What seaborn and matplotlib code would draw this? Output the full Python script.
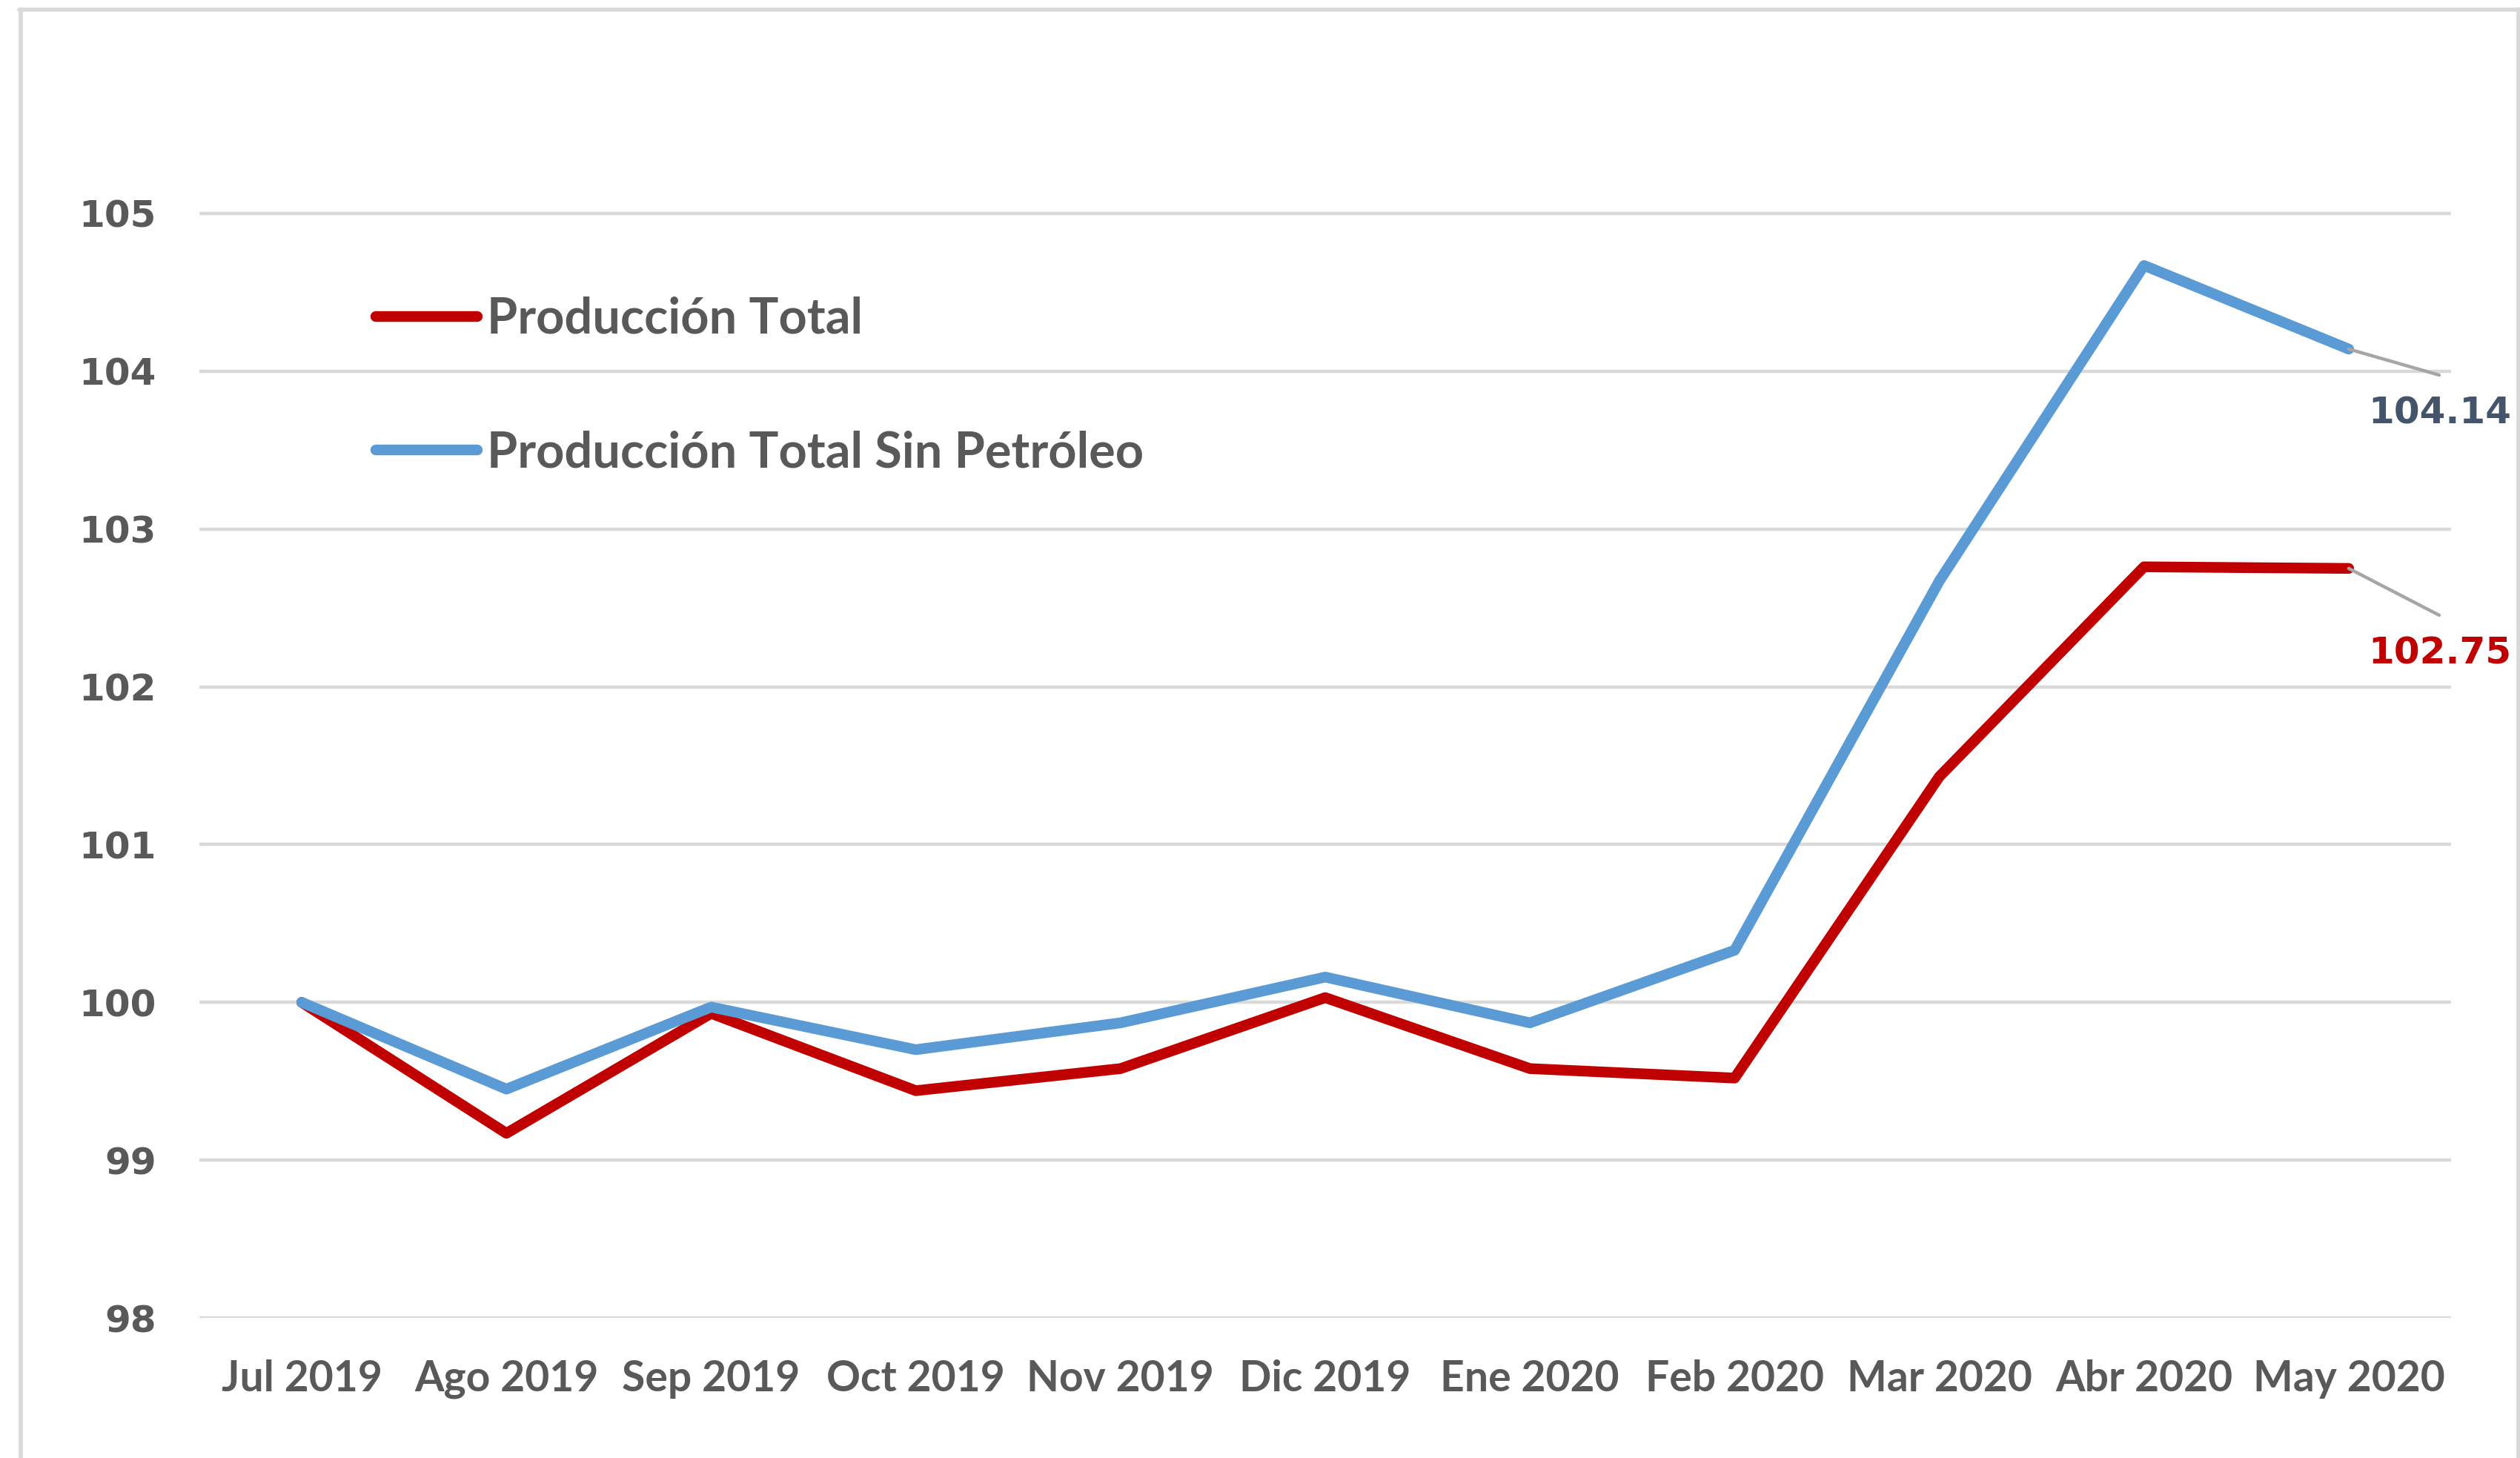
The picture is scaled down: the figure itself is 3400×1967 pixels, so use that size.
import numpy as np
import pandas as pd
import seaborn as sns
import matplotlib.pyplot as plt
from matplotlib.lines import Line2D

months = ['Jul 2019', 'Ago 2019', 'Sep 2019', 'Oct 2019', 'Nov 2019', 'Dic 2019',
          'Ene 2020', 'Feb 2020', 'Mar 2020', 'Abr 2020', 'May 2020']
prod_total = [100.0, 99.17, 99.93, 99.44, 99.58, 100.03, 99.58, 99.52, 101.43, 102.76, 102.75]
prod_sin_petroleo = [100.0, 99.45, 99.97, 99.70, 99.87, 100.16, 99.87, 100.33, 102.67, 104.67, 104.14]
series_names = ['Producción Total', 'Producción Total Sin Petróleo']
series_colors = ['#C00000', '#5B9BD5']
label_colors = ['#C00000', '#44546A']
y_ticks = [98, 99, 100, 101, 102, 103, 104, 105]

df = pd.concat([
    pd.DataFrame({'mes': months, 'valor': prod_total, 'serie': series_names[0]}),
    pd.DataFrame({'mes': months, 'valor': prod_sin_petroleo, 'serie': series_names[1]}),
])

sns.set_style('white')
narrow = ['Lato', 'DejaVu Sans']
wide = ['DejaVu Sans']
grey_txt = '#595959'

W, H = 3400, 1967
fig = plt.figure(figsize=(17, 9.835), dpi=200)
# axes box in pixels: left 269, right 3307, y=98 at 1778, y=106 at 75
ax = fig.add_axes([269 / W, (H - 1778) / H, (3307 - 269) / W, (1778 - 75) / H])

sns.lineplot(data=df, x='mes', y='valor', hue='serie', palette=series_colors,
             linewidth=5.2, ax=ax, legend=False, sort=False)
for ln in ax.get_lines():
    ln.set_solid_capstyle('round')
    ln.set_solid_joinstyle('round')

ax.set_xlim(-0.5, 10.5)
ax.set_ylim(98, 106)
ax.set_yticks(y_ticks)
ax.set_yticklabels([str(t) for t in y_ticks], family=wide, fontweight='bold',
                   fontsize=18, color=grey_txt)
ax.set_xticks(range(len(months)))
ax.set_xticklabels(months, family=narrow, fontweight='bold', fontsize=20.5, color=grey_txt)
ax.tick_params(axis='both', length=0)
ax.tick_params(axis='x', pad=20)
ax.tick_params(axis='y', pad=21)
ax.set_xlabel('')
ax.set_ylabel('')
for s in ax.spines.values():
    s.set_visible(False)
for t in y_ticks:
    ax.axhline(t, color='#D9D9D9', linewidth=1.6, zorder=0)

# end labels with grey leader lines
last = len(months) - 1
ends = [prod_total[-1], prod_sin_petroleo[-1]]
leader_end = [(3291, 830), (3291, 506)]
label_center = [(3292, 881), (3292, 557)]
for val, col, (lx, ly), (tx, ty) in zip(ends, label_colors, leader_end, label_center):
    ax.annotate('', xy=(last, val), xytext=(lx, H - ly), textcoords='figure pixels',
                arrowprops=dict(arrowstyle='-', color='#A6A6A6', lw=1.6,
                                shrinkA=0, shrinkB=0))
    fig.text(tx / W, (H - ty) / H, f'{val:.2f}', ha='center', va='center',
             fontsize=18, fontweight='bold', family=wide, color=col)

handles = [Line2D([0], [0], color=c, lw=5.2, solid_capstyle='round') for c in series_colors]
leg = ax.legend(handles, series_names, loc='upper left',
                bbox_to_anchor=(447 / W, (H - 340) / H), bbox_transform=fig.transFigure,
                frameon=False, handlelength=2.05, handletextpad=0.2, labelspacing=1.78,
                prop={'family': narrow, 'weight': 'bold', 'size': 24})
for txt in leg.get_texts():
    txt.set_color(grey_txt)

# outer chart frame
frame_kw = dict(color='#D9D9D9', linewidth=2, transform=fig.transFigure)
fig.add_artist(Line2D([28 / W, 28 / W], [0, (H - 13) / H], **frame_kw))
fig.add_artist(Line2D([26 / W, 1], [(H - 13) / H, (H - 13) / H], **frame_kw))
fig.add_artist(Line2D([3398 / W, 3398 / W], [0, (H - 13) / H], **frame_kw))

fig.savefig('out.png', dpi=200)
